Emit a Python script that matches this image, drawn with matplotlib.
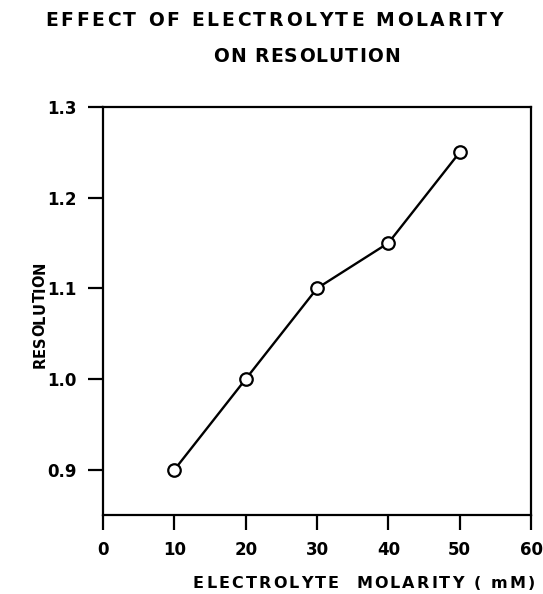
import matplotlib
matplotlib.use('Agg')
import matplotlib.pyplot as plt
from matplotlib.font_manager import FontProperties

# data
molarity = [10, 20, 30, 40, 50]
resolution = [0.90, 1.00, 1.10, 1.15, 1.25]

x_ticks = [0, 10, 20, 30, 40, 50, 60]
y_ticks = [0.9, 1.0, 1.1, 1.2, 1.3]

title_1 = 'EFFECT OF ELECTROLYTE MOLARITY'
title_2 = 'ON RESOLUTION'
x_label = 'ELECTROLYTE  MOLARITY ( mM)'
y_label = 'RESOLUTION'

plt.rcParams['font.family'] = ['DejaVu Sans']
plt.rcParams['font.weight'] = 'bold'

W, H = 543, 594
fig = plt.figure(figsize=(W / 100, H / 100), dpi=100)
ax = fig.add_axes([0.19, 0.133, 0.788, 0.687])

ax.plot(molarity, resolution, color='black', linewidth=1.7,
        marker='o', markersize=9, markerfacecolor='white',
        markeredgecolor='black', markeredgewidth=1.6)

ax.set_xlim(0, 60)
ax.set_ylim(0.85, 1.3)
ax.set_xticks(x_ticks)
ax.set_yticks(y_ticks)
ax.set_xticklabels([str(v) for v in x_ticks], fontsize=12, fontweight='bold')
ax.set_yticklabels([f'{v:.1f}' for v in y_ticks], fontsize=12, fontweight='bold')
ax.tick_params(direction='out', length=11, width=1.6, pad=8)

for side in ['left', 'right', 'top', 'bottom']:
    ax.spines[side].set_linewidth(1.6)

renderer = fig.canvas.get_renderer()


def char_width(c, prop):
    if c == ' ':
        w2 = renderer.get_text_width_height_descent('I I', prop, ismath=False)[0]
        w1 = renderer.get_text_width_height_descent('II', prop, ismath=False)[0]
        return w2 - w1
    return renderer.get_text_width_height_descent(c, prop, ismath=False)[0]


def spaced_text(s, start, end, across, size, vertical=False):
    # letter-spaced text stretched between two pixel positions (top-left origin)
    prop = FontProperties(family='DejaVu Sans', weight='bold', size=size)
    widths = [char_width(c, prop) for c in s]
    gap = (end - start - sum(widths)) / (len(s) - 1)
    pos = start
    for c, w in zip(s, widths):
        if c != ' ':
            if vertical:
                fig.text(across / W, 1 - (pos + w / 2) / H, c, rotation=90,
                         ha='center', va='center', fontproperties=prop)
            else:
                fig.text((pos + w / 2) / W, 1 - across / H, c,
                         ha='center', va='center', fontproperties=prop)
        pos += w + gap


spaced_text(title_1, 45, 503, 20, 13.5)
spaced_text(title_2, 213, 400, 57, 13.5)
spaced_text(x_label, 193, 535, 583, 11.5)
# vertical label reads bottom to top
spaced_text(y_label[::-1], 262, 368, 40, 10.5, vertical=True)

fig.savefig('out.png', dpi=100)
